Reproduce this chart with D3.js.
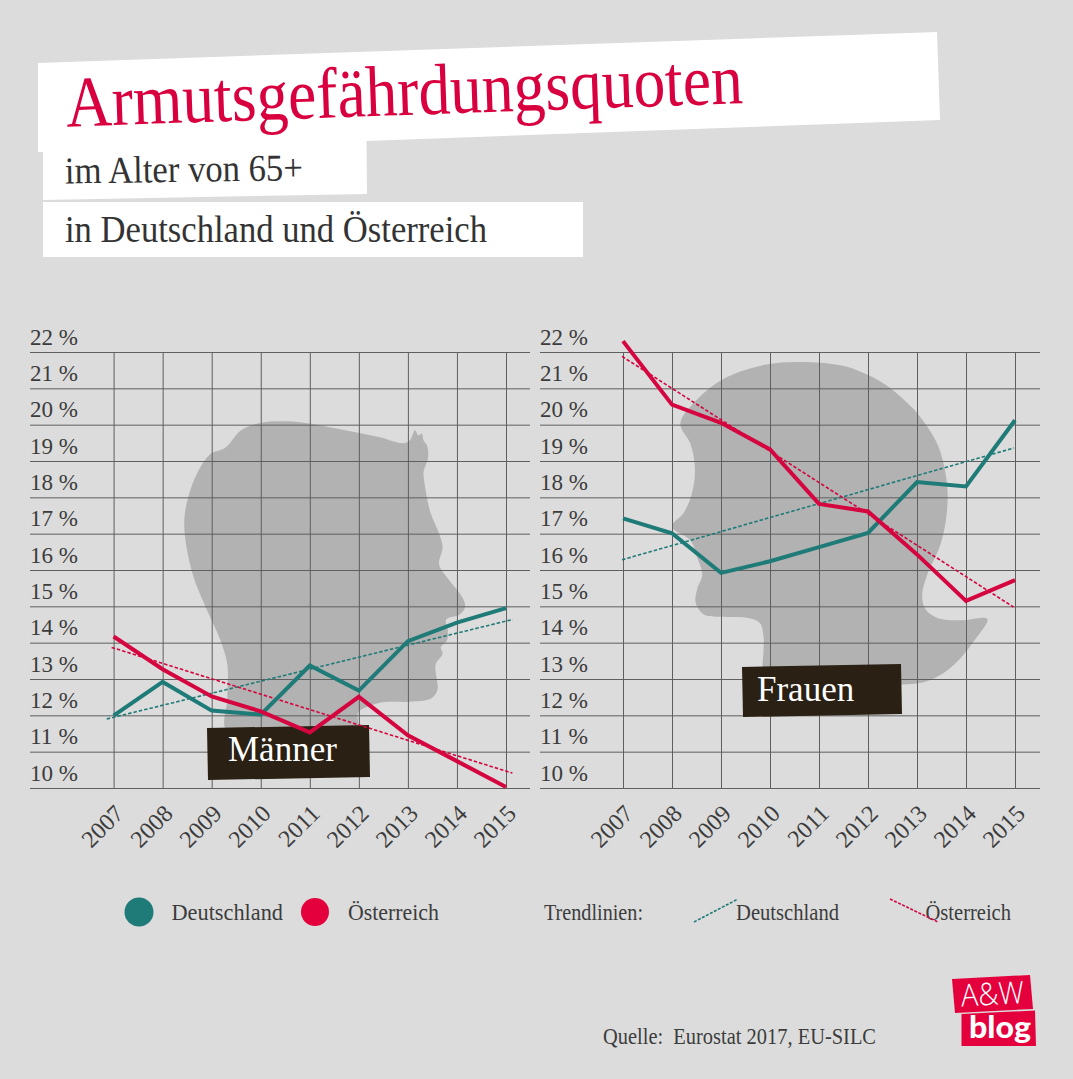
<!DOCTYPE html>
<html>
<head>
<meta charset="utf-8">
<script src="https://cdn.jsdelivr.net/npm/d3@7"></script>
<style>
  html, body { margin: 0; padding: 0; background: #dcdcdc; }
  svg { display: block; }
  text { font-family: "Liberation Serif", serif; white-space: pre; }
</style>
</head>
<body>
<svg id="chart" width="1073" height="1079"></svg>
<script>
// values
const years = [2007, 2008, 2009, 2010, 2011, 2012, 2013, 2014, 2015]
const yTicks = [10, 11, 12, 13, 14, 15, 16, 17, 18, 19, 20, 21, 22]

const menGermany = [11.99, 12.92, 12.13, 12.02, 13.37, 12.68, 14.04, 14.55, 14.95]
const menAustria = [14.17, 13.27, 12.52, 12.11, 11.53, 12.51, 11.45, 10.74, 10.03]
const womenGermany = [17.42, 17.01, 15.92, 16.24, 16.63, 17.02, 18.42, 18.30, 20.12]
const womenAustria = [22.30, 20.55, 20.05, 19.32, 17.82, 17.61, 16.43, 15.15, 15.72]

// trend lines as [year, value] end points
const menGermanyTrend = [[2006.86, 11.90], [2015.14, 14.64]]
const menAustriaTrend = [[2006.96, 13.87], [2015.13, 10.41]]
const womenGermanyTrend = [[2006.98, 16.28], [2014.98, 19.36]]
const womenAustriaTrend = [[2006.98, 21.88], [2014.97, 14.98]]

// head outlines, traced in 3x crop units
const maleHead = [[660,1195],[660,1100],[660,1000],[640,930],[600,840],[560,740],[535,600],[545,520],[575,440],[610,390],[655,370],[700,320],[760,298],[850,295],[960,312],[1100,340],[1170,358],[1190,350],[1205,320],[1215,335],[1225,330],[1230,350],[1240,365],[1243,400],[1230,440],[1232,470],[1250,560],[1275,620],[1285,660],[1275,710],[1300,750],[1345,810],[1350,835],[1335,855],[1295,870],[1300,900],[1298,930],[1280,950],[1285,970],[1265,1000],[1270,1075],[1250,1100],[1200,1108],[1100,1112],[1040,1140],[1040,1170],[1040,1195]]
const femaleHead = [[430,300],[480,230],[560,170],[680,130],[800,122],[920,135],[985,160],[1040,190],[1095,235],[1130,270],[1190,360],[1218,470],[1218,560],[1200,650],[1160,740],[1145,800],[1155,840],[1190,865],[1260,872],[1338,868],[1300,930],[1240,1000],[1170,1045],[1090,1058],[900,1040],[700,1040],[676,1025],[676,960],[676,920],[665,880],[630,865],[560,862],[500,855],[475,820],[480,780],[495,740],[480,690],[460,640],[405,600],[440,560],[465,500],[473,430],[460,360]]

const TEAL = "#1f7b78"
const RED = "#d4053f"
const GRID = "#5f5f5f"
const TEXT = "#3c3c3c"

const svg = d3.select("#chart")
svg.append("rect").attr("width", 1073).attr("height", 1079).attr("fill", "#dcdcdc")

const outline = d3.line().curve(d3.curveLinearClosed)
const polygon = (pts, fill) => svg.append("path").attr("d", outline(pts)).attr("fill", fill)

// Header paper strips
polygon([[38,63],[937,32],[940,120],[366.5,141],[367,194],[43,200],[43,152],[38,152]], "#fff")
polygon([[43,202],[583,202],[583,257],[43,257]], "#fff")

// the original type is a condensed Times, so sizes are bigger than the widths
svg.append("text")
  .attr("transform", "translate(66.8,126.7) rotate(-2)")
  .attr("font-size", 72).attr("fill", "#d9003f")
  .attr("textLength", 677).attr("lengthAdjust", "spacingAndGlyphs")
  .text("Armutsgefährdungsquoten")

svg.append("text")
  .attr("transform", "translate(65,183.5) rotate(-0.8)")
  .attr("font-size", 38).attr("fill", "#333")
  .attr("textLength", 238).attr("lengthAdjust", "spacingAndGlyphs")
  .text("im Alter von 65+")

svg.append("text")
  .attr("x", 65).attr("y", 242)
  .attr("font-size", 38).attr("fill", "#333")
  .attr("textLength", 422).attr("lengthAdjust", "spacingAndGlyphs")
  .text("in Deutschland und Österreich")

const y = d3.scaleLinear().domain([10, 22]).range([788, 352])

function drawPanel(cfg) {
  const x = d3.scaleLinear().domain([2007, 2015]).range(cfg.xRange)
  const g = svg.append("g")

  // head goes below the grid
  g.append("path")
    .attr("transform", cfg.headTransform)
    .attr("d", d3.line().curve(d3.curveCatmullRomClosed.alpha(0.5))(cfg.head))
    .attr("fill", "#b2b2b2")

  // horizontal grid and percent labels
  const yAxis = g.append("g")
    .attr("transform", `translate(${cfg.gridLeft},0)`)
    .call(d3.axisRight(y).tickValues(yTicks).tickSize(cfg.gridRight - cfg.gridLeft).tickFormat(d => `${d} %`))
  yAxis.select(".domain").remove()
  yAxis.selectAll("line").attr("stroke", GRID).attr("stroke-width", 1)
  yAxis.selectAll("text")
    .attr("x", 0).attr("dy", 0).attr("y", -8)
    .attr("text-anchor", "start")
    .attr("font-family", "Liberation Serif")
    .attr("font-size", 24).attr("fill", TEXT)
    .attr("textLength", 48).attr("lengthAdjust", "spacingAndGlyphs")

  // vertical grid and years
  const xAxis = g.append("g")
    .attr("transform", "translate(0,788)")
    .call(d3.axisBottom(x).tickValues(years).tickSize(-436).tickFormat(d3.format("d")))
  xAxis.select(".domain").remove()
  xAxis.selectAll("line").attr("stroke", GRID).attr("stroke-width", 1)
  xAxis.selectAll("text")
    .attr("y", 0).attr("dy", 0)
    .attr("transform", "translate(11,27) rotate(-45)")
    .attr("text-anchor", "end")
    .attr("font-family", "Liberation Serif")
    .attr("font-size", 24).attr("fill", TEXT)

  // label box
  g.append("path").attr("d", outline(cfg.box)).attr("fill", "#2a2013")
  g.append("text")
    .attr("x", cfg.labelX).attr("y", cfg.labelY)
    .attr("font-size", 35).attr("fill", "#fff")
    .text(cfg.label)

  const series = d3.line().x((d, i) => x(years[i])).y(d => y(d))
  const trend = d3.line().x(d => x(d[0])).y(d => y(d[1]))

  g.append("path").attr("d", trend(cfg.germanyTrend)).attr("fill", "none")
    .attr("stroke", TEAL).attr("stroke-width", 1.6).attr("stroke-dasharray", "3.5 2")
  g.append("path").attr("d", trend(cfg.austriaTrend)).attr("fill", "none")
    .attr("stroke", RED).attr("stroke-width", 1.6).attr("stroke-dasharray", "3.5 2")
  g.append("path").attr("d", series(cfg.germany)).attr("fill", "none")
    .attr("stroke", TEAL).attr("stroke-width", 4)
  g.append("path").attr("d", series(cfg.austria)).attr("fill", "none")
    .attr("stroke", RED).attr("stroke-width", 4)
}

drawPanel({
  xRange: [113.6, 506], gridLeft: 30, gridRight: 530,
  head: maleHead, headTransform: "translate(0,320) scale(0.3444)",
  box: [[207,728],[369,725],[370,777],[208,780]],
  label: "Männer", labelX: 228, labelY: 761,
  germany: menGermany, austria: menAustria,
  germanyTrend: menGermanyTrend, austriaTrend: menAustriaTrend
})

drawPanel({
  xRange: [623, 1015], gridLeft: 540, gridRight: 1040,
  head: femaleHead, headTransform: "translate(535,320) scale(0.3381,0.3444)",
  box: [[742,667],[901,664],[902,714],[743,717]],
  label: "Frauen", labelX: 757, labelY: 700.5,
  germany: womenGermany, austria: womenAustria,
  germanyTrend: womenGermanyTrend, austriaTrend: womenAustriaTrend
})

// Legend
const legendText = (label, x0, x1, yBase, size) => svg.append("text")
  .attr("x", x0).attr("y", yBase)
  .attr("font-size", size).attr("fill", TEXT)
  .attr("textLength", x1 - x0).attr("lengthAdjust", "spacingAndGlyphs")
  .text(label)

svg.append("circle").attr("cx", 139).attr("cy", 912).attr("r", 14.5).attr("fill", TEAL)
svg.append("circle").attr("cx", 315).attr("cy", 912).attr("r", 14).attr("fill", "#e4003c")
legendText("Deutschland", 171.5, 283, 919.5, 24)
legendText("Österreich", 348, 439, 919.5, 24)
legendText("Trendlinien:", 544, 643, 919.5, 24)
legendText("Deutschland", 736, 839, 919.5, 24)
legendText("Österreich", 925.5, 1011, 919.5, 24)

svg.append("line").attr("x1", 694).attr("y1", 922).attr("x2", 738).attr("y2", 899)
  .attr("stroke", TEAL).attr("stroke-width", 1.6).attr("stroke-dasharray", "3 1.5")
svg.append("line").attr("x1", 890).attr("y1", 899).attr("x2", 938).attr("y2", 922)
  .attr("stroke", RED).attr("stroke-width", 1.6).attr("stroke-dasharray", "3 1.5")

legendText("Quelle:  Eurostat 2017, EU-SILC", 603, 876, 1043.5, 23)

// Logo
polygon([[952,979],[1030,975],[1033,1009],[955,1013]], "#e4003c")
polygon([[961.5,1014],[1035,1010.5],[1036,1046],[961.5,1046]], "#e4003c")
svg.append("text")
  .attr("transform", "translate(961.5,1006.5) rotate(-3)")
  .attr("font-size", 31).attr("fill", "#fff")
  .attr("textLength", 63).attr("lengthAdjust", "spacingAndGlyphs")
  .style("font-family", "'Open Sans', sans-serif").style("font-weight", 300)
  .text("A&W")
svg.append("text")
  .attr("x", 969).attr("y", 1038)
  .attr("font-size", 31).attr("fill", "#fff")
  .attr("textLength", 62).attr("lengthAdjust", "spacingAndGlyphs")
  .style("font-family", "Lato, sans-serif").style("font-weight", 900)
  .text("blog")
</script>
</body>
</html>
